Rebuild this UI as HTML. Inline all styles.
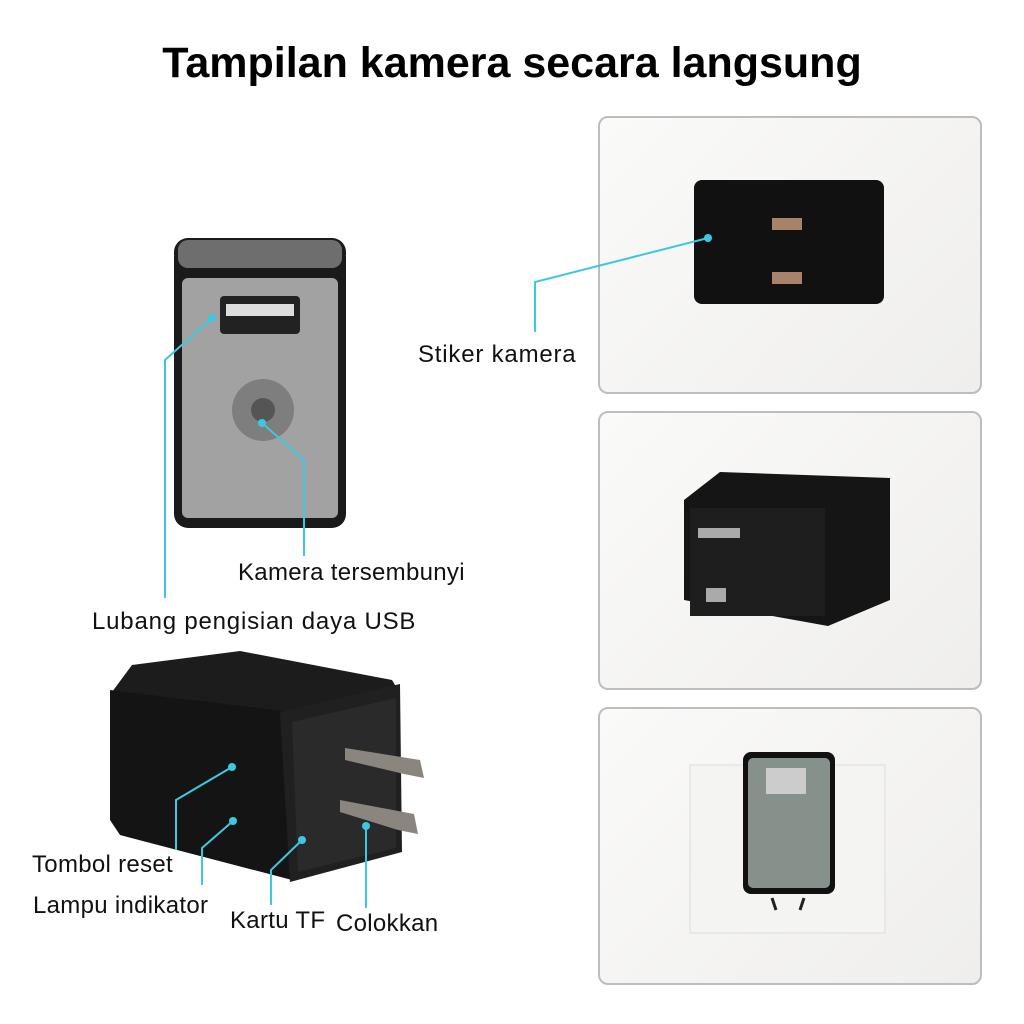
<!DOCTYPE html>
<html><head><meta charset="utf-8"><style>
body{margin:0;width:1024px;height:1024px;background:#fff;position:relative;overflow:hidden;font-family:"Liberation Sans","DejaVu Sans",sans-serif}
.t{position:absolute;font-size:24px;color:#111;white-space:nowrap;letter-spacing:0.3px}
.panel{position:absolute;left:598px;width:380px;border:2px solid #bdbdbd;border-radius:10px;background:linear-gradient(135deg,#fafaf9,#efeeec)}
</style></head><body>
<div style="position:absolute;top:39px;left:0;width:1024px;text-align:center;font-weight:bold;font-size:43px;color:#000">Tampilan kamera secara langsung</div>
<div class="panel" style="top:116px;height:274px"></div>
<div class="panel" style="top:411px;height:275px"></div>
<div class="panel" style="top:707px;height:274px"></div>
<svg width="1024" height="1024" style="position:absolute;left:0;top:0">
<rect x="174" y="238" width="172" height="290" rx="14" fill="#1a1a1a"/>
<rect x="178" y="240" width="164" height="28" rx="10" fill="#6e6e6e"/>
<rect x="182" y="278" width="156" height="240" rx="6" fill="#a2a2a2"/>
<rect x="220" y="296" width="80" height="38" rx="4" fill="#222"/>
<rect x="226" y="304" width="68" height="12" fill="#ddd"/>
<circle cx="263" cy="410" r="31" fill="#7e7e7e"/>
<circle cx="263" cy="410" r="12" fill="#555"/>
<rect x="694" y="180" width="190" height="124" rx="8" fill="#111"/>
<rect x="772" y="218" width="30" height="12" fill="#a8826a"/>
<rect x="772" y="272" width="30" height="12" fill="#a8826a"/>
<polygon points="684,500 720,472 890,478 890,600 828,626 684,600" fill="#151515"/>
<rect x="690" y="508" width="135" height="108" fill="#1e1e1e"/>
<rect x="698" y="528" width="42" height="10" fill="#aaa"/>
<rect x="706" y="588" width="20" height="14" fill="#aaa"/>
<rect x="690" y="765" width="195" height="168" fill="#f4f4f2" stroke="#ddd"/>
<rect x="743" y="752" width="92" height="142" rx="8" fill="#111"/>
<rect x="748" y="758" width="82" height="130" rx="5" fill="#87918c"/>
<rect x="766" y="768" width="40" height="26" fill="#ccc"/>
<line x1="772" y1="898" x2="776" y2="910" stroke="#222" stroke-width="3"/>
<line x1="804" y1="898" x2="800" y2="910" stroke="#222" stroke-width="3"/>
<polygon points="112,692 132,665 240,651 392,680 398,690 290,714" fill="#1c1c1c"/>
<polygon points="110,690 290,712 292,880 120,835 110,820" fill="#141414"/>
<polygon points="280,712 400,684 402,852 290,882" fill="#202020"/>
<polygon points="292,722 396,698 396,848 298,872" fill="#2a2a2a"/>
<polygon points="345,748 420,760 424,778 404,774 345,760" fill="#8a857f"/>
<polygon points="340,800 414,814 418,834 398,830 340,812" fill="#8a857f"/>
<g stroke="#3ec8df" stroke-width="2" fill="none">
<polyline points="212,318 165,360 165,598"/>
<polyline points="262,423 304,460 304,556"/>
<polyline points="708,238 535,282 535,332"/>
<polyline points="232,767 176,800 176,850"/>
<polyline points="233,821 202,848 202,885"/>
<polyline points="302,840 271,870 271,905"/>
<polyline points="366,826 366,908"/>
</g>
<g fill="#3ec8df">
<circle cx="212" cy="318" r="4"/><circle cx="262" cy="423" r="4"/><circle cx="708" cy="238" r="4"/>
<circle cx="232" cy="767" r="4"/><circle cx="233" cy="821" r="4"/><circle cx="302" cy="840" r="4"/><circle cx="366" cy="826" r="4"/>
</g>
</svg>
<div class="t" style="left:418px;top:341px;letter-spacing:0.8px">Stiker kamera</div>
<div class="t" style="left:238px;top:559px">Kamera tersembunyi</div>
<div class="t" style="left:92px;top:608px;letter-spacing:0.8px">Lubang pengisian daya USB</div>
<div class="t" style="left:32px;top:851px">Tombol reset</div>
<div class="t" style="left:33px;top:892px">Lampu indikator</div>
<div class="t" style="left:230px;top:907px">Kartu TF</div>
<div class="t" style="left:336px;top:910px">Colokkan</div>
</body></html>
